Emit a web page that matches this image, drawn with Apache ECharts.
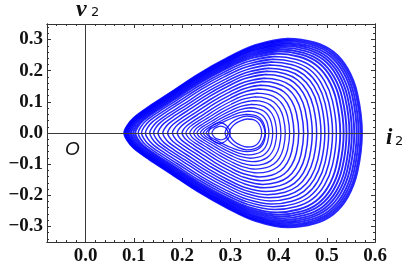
<!DOCTYPE html>
<html>
<head>
<meta charset="utf-8">
<script src="https://cdn.jsdelivr.net/npm/echarts@6/dist/echarts.min.js"></script>
<style>html,body{margin:0;padding:0;background:#fff;}#c{width:405px;height:273px;}</style>
</head>
<body>
<div id="c"></div>
<script>
// Tick values
const xMajorTicks = [0, 0.1, 0.2, 0.3, 0.4, 0.5, 0.6];
const yMajorTicks = [-0.3, -0.2, -0.1, 0, 0.1, 0.2, 0.3];
const xRange = [-0.08, 0.6];
const yRange = [-0.35, 0.35];

// Shape of one orbit turn (upper half):
// fraction of the way from left tip to right end, and fraction of the turn's height.
const profileU = [0, 0.012, 0.04, 0.105, 0.19, 0.31, 0.43, 0.55, 0.69, 0.80, 0.88, 0.94, 0.98, 1];
const profileW = [0, 0.075, 0.16, 0.28, 0.42, 0.62, 0.79, 0.93, 1.0, 0.96, 0.86, 0.68, 0.42, 0];

// Each turn of the orbit: left tip i2, right end i2, peak v2.
const loopLeft   = [0.080, 0.081, 0.083, 0.085, 0.087, 0.089, 0.092, 0.095, 0.099, 0.103,
                    0.109, 0.116, 0.124, 0.133, 0.141, 0.150, 0.160, 0.170, 0.180, 0.190, 0.200,
                    0.208, 0.216, 0.224, 0.231, 0.238, 0.244, 0.250];
const loopRight  = [0.573, 0.570, 0.566, 0.562, 0.557, 0.552, 0.547, 0.541, 0.535, 0.528,
                    0.520, 0.512, 0.504, 0.496, 0.488, 0.479, 0.470, 0.461, 0.452, 0.442, 0.432,
                    0.423, 0.414, 0.405, 0.396, 0.388, 0.380, 0.373];
const loopHeight = [0.303, 0.299, 0.295, 0.290, 0.285, 0.280, 0.274, 0.268, 0.262, 0.255,
                    0.246, 0.237, 0.228, 0.218, 0.208, 0.198, 0.188, 0.176, 0.165, 0.153, 0.141,
                    0.128, 0.116, 0.104, 0.092, 0.081, 0.070, 0.060];

// Small turns around the centre (upper halves).
const centerLoops = [
  [[.255,0],[.257,.011],[.262,.022],[.270,.030],[.278,.033],[.286,.030],[.293,.022],[.298,.011],[.300,0]],
  [[.262,0],[.264,.008],[.268,.015],[.274,.020],[.280,.022],[.286,.020],[.291,.015],[.294,.008],[.295,0]],
  [[.297,0],[.301,.014],[.309,.028],[.321,.039],[.335,.045],[.348,.043],[.357,.034],[.363,.018],[.365,0]],
  [[.289,0],[.294,.018],[.303,.034],[.317,.047],[.334,.054],[.350,.051],[.362,.040],[.369,.021],[.372,0]]
];

function closedPath(up) {
  const n = up.length, k = Math.floor(n / 2);
  const lo = up.map(p => [p[0], -p[1]]).reverse();
  return up.slice(k - 1).concat(lo.slice(1), up.slice(1, k + 2));
}
const BLUE = 'rgba(0,0,255,0.85)';
const series = [];
function addLoop(up, width) {
  series.push({
    type: 'line', xAxisIndex: 0, yAxisIndex: 0, data: closedPath(up),
    showSymbol: false, symbol: 'none', smooth: 0.35, silent: true,
    lineStyle: { color: BLUE, width: width }, z: 2
  });
}
loopLeft.forEach((L, i) => {
  const R = loopRight[i], H = loopHeight[i];
  const up = profileU.map((u, j) => [L + u * (R - L), H * profileW[j]]);
  addLoop(up, i < 10 ? 1.9 : (i < 21 ? 1.5 : 1.3));
});
centerLoops.forEach(up => addLoop(up, 1.3));

series.push({
  type: 'line', data: [], xAxisIndex: 0, yAxisIndex: 0, z: 5, silent: true,
  markLine: {
    silent: true, symbol: ['none', 'none'], label: { show: false },
    lineStyle: { color: '#3a3a3a', width: 1, type: 'solid' },
    emphasis: { disabled: true },
    data: [{ xAxis: 0 }, { yAxis: 0 }], animation: false
  }
});

const minorX = [], minorY = [];
for (let i = 0; i <= 34; i++) minorX.push(+(-0.08 + 0.02 * i).toFixed(2));
for (let i = 0; i <= 34; i++) minorY.push(+(-0.34 + 0.02 * i).toFixed(2));

const fmt = v => (v < 0 ? '\u2212' : '') + Math.abs(v).toFixed(1);
const lblFont = { fontFamily: 'Liberation Serif', fontWeight: 'bold', fontSize: 19, color: '#111' };
const frameLine = { show: true, onZero: false, lineStyle: { color: '#333', width: 1 } };

function xAx(pos, ticks, len, labels) {
  return {
    type: 'value', min: xRange[0], max: xRange[1], position: pos,
    axisLine: frameLine, splitLine: { show: false },
    axisTick: { show: true, inside: true, length: len, customValues: ticks, lineStyle: { color: '#333' } },
    axisLabel: labels ? Object.assign({ show: true, customValues: xMajorTicks, formatter: fmt, margin: 5 }, lblFont) : { show: false }
  };
}
function yAx(pos, ticks, len, labels) {
  return {
    type: 'value', min: yRange[0], max: yRange[1], position: pos,
    axisLine: frameLine, splitLine: { show: false },
    axisTick: { show: true, inside: true, length: len, customValues: ticks, lineStyle: { color: '#333' } },
    axisLabel: labels ? Object.assign({ show: true, customValues: yMajorTicks, formatter: fmt, margin: 4 }, lblFont) : { show: false }
  };
}

const chart = echarts.init(document.getElementById('c'), null, { renderer: 'canvas' });
chart.setOption({
  animation: false,
  backgroundColor: '#fff',
  grid: { left: 47, top: 24, width: 328, height: 218, outerBoundsMode: 'none', containLabel: false },
  xAxis: [xAx('bottom', xMajorTicks, 4, true), xAx('bottom', minorX, 2, false), xAx('top', xMajorTicks, 4, false), xAx('top', minorX, 2, false)],
  yAxis: [yAx('left', yMajorTicks, 4, true), yAx('left', minorY, 2, false), yAx('right', yMajorTicks, 4, false), yAx('right', minorY, 2, false)],
  series: series,
  graphic: [
    { type: 'text', left: 76, top: -2, style: { text: 'v', font: 'italic bold 24px "Liberation Serif"', fill: '#111' } },
    { type: 'text', left: 91, top: 6, style: { text: '2', font: '13px "DejaVu Sans"', fill: '#111' } },
    { type: 'text', left: 386, top: 127, style: { text: 'i', font: 'italic bold 23px "Liberation Serif"', fill: '#111' } },
    { type: 'text', left: 395, top: 135, style: { text: '2', font: '13px "DejaVu Sans"', fill: '#111' } },
    { type: 'text', left: 65, top: 140, style: { text: 'O', font: 'italic 19px "Liberation Sans"', fill: '#111' } }
  ]
});
</script>
</body>
</html>
